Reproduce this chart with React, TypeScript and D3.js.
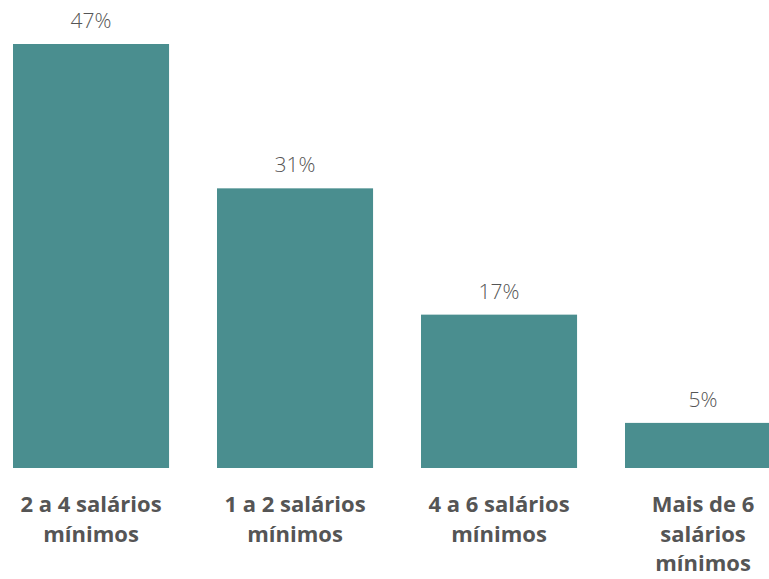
import React from "react";
import * as d3 from "d3";

const categories: string[][] = [
  ["2 a 4 salários", "mínimos"],
  ["1 a 2 salários", "mínimos"],
  ["4 a 6 salários", "mínimos"],
  ["Mais de 6", "salários", "mínimos"],
];
const values: number[] = [47, 31, 17, 5];
const valueLabels: string[] = ["47%", "31%", "17%", "5%"];

const W = 769;
const H = 579;

export default function App() {
  const keys = categories.map((c) => c.join(" "));
  const x = d3
    .scaleBand<string>()
    .domain(keys)
    .range([13, 13 + 204 * (4 - 0.235)])
    .paddingInner(0.235)
    .paddingOuter(0);
  const y = d3.scaleLinear().domain([0, 47]).range([468, 44]);

  return (
    <svg
      width={W}
      height={H}
      style={{ position: "absolute", left: 0, top: 0, background: "#fff" }}
    >
      {values.map((v, i) => {
        const k = keys[i];
        const bx = x(k) as number;
        const bw = x.bandwidth();
        const cx = bx + bw / 2;
        return (
          <g key={k}>
            <rect x={bx} y={y(v)} width={bw} height={y(0) - y(v)} fill="#4a8e8f" />
            <text
              x={cx}
              y={y(v) - 16}
              textAnchor="middle"
              fontFamily="'Open Sans', 'Noto Sans', sans-serif"
              fontWeight={300}
              fontSize={21}
              fill="#555"
            >
              {valueLabels[i]}
            </text>
            <text
              textAnchor="middle"
              fontFamily="'Open Sans', 'Noto Sans', sans-serif"
              fontWeight={700}
              fontSize={22}
              fill="#555"
            >
              {categories[i].map((line, j) => (
                <tspan key={j} x={cx} y={512 + j * 29.5}>
                  {line}
                </tspan>
              ))}
            </text>
          </g>
        );
      })}
    </svg>
  );
}
